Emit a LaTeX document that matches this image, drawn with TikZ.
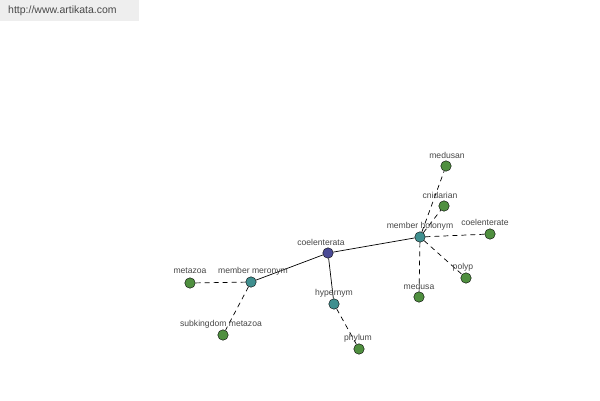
\documentclass[tikz,border=0pt]{standalone}
\usepackage{fontspec}
\setmainfont{Liberation Sans}
\begin{document}
\begin{tikzpicture}[x=1pt,y=-1pt,
  dot/.style={circle,draw=black,line width=0.4pt,inner sep=0pt,minimum size=10.5pt},
  root/.style={dot,fill=rootc},
  mid/.style={dot,fill=midc},
  leaf/.style={dot,fill=leafc},
  lbl/.style={font=\fontsize{8.6}{9}\selectfont,text=labc,inner sep=0pt},
  rel/.style={line width=0.7pt,black},
  sub/.style={line width=0.7pt,black,dash pattern=on 5pt off 4pt}]
\definecolor{rootc}{HTML}{4B4B96}
\definecolor{midc}{HTML}{3F8F8F}
\definecolor{leafc}{HTML}{4F8F3F}
\definecolor{labc}{HTML}{484848}
\definecolor{urlbg}{HTML}{EEEEEE}
\useasboundingbox[fill=white] (0,0) rectangle (600,400);
\fill[urlbg] (0,0) rectangle (139,21);
\node[anchor=west,font=\fontsize{10.5}{11}\selectfont,text=labc,inner sep=0pt] (url) at (8,11) {http://www.artikata.com};
% nodes
\node[root] (coel) at (328,253) {};
\node[mid] (mh) at (420,237) {};
\node[mid] (mm) at (251,282) {};
\node[mid] (hyp) at (334,304) {};
\node[leaf] (medusan) at (446,166) {};
\node[leaf] (cnid) at (444,206) {};
\node[leaf] (coelte) at (490,234) {};
\node[leaf] (polyp) at (466,278) {};
\node[leaf] (medusa) at (419,297) {};
\node[leaf] (meta) at (190,283) {};
\node[leaf] (subk) at (223,335) {};
\node[leaf] (phyl) at (359,349) {};
% edges
\draw[rel] (coel) -- (mh);
\draw[rel] (coel) -- (mm);
\draw[rel] (coel) -- (hyp);
\draw[sub] (mh) -- (medusan);
\draw[sub] (mh) -- (cnid);
\draw[sub] (mh) -- (coelte);
\draw[sub] (mh) -- (polyp);
\draw[sub] (mh) -- (medusa);
\draw[sub] (mm) -- (meta);
\draw[sub] (mm) -- (subk);
\draw[sub] (hyp) -- (phyl);
% labels
\node[lbl] (lcoel) at (321,242) {coelenterata};
\node[lbl] (lmh) at (420,226) {member holonym};
\node[lbl] (lmm) at (253,271) {member meronym};
\node[lbl] (lhyp) at (334,293) {hypernym};
\node[lbl] (lmedusan) at (447,155) {medusan};
\node[lbl] (lcnid) at (440,195) {cnidarian};
\node[lbl] (lcoelte) at (485,222) {coelenterate};
\node[lbl] (lpolyp) at (463,267) {polyp};
\node[lbl] (lmedusa) at (419,286) {medusa};
\node[lbl] (lmeta) at (190,271) {metazoa};
\node[lbl] (lsubk) at (221,324) {subkingdom metazoa};
\node[lbl] (lphyl) at (358,338) {phylum};
\end{tikzpicture}
\end{document}
